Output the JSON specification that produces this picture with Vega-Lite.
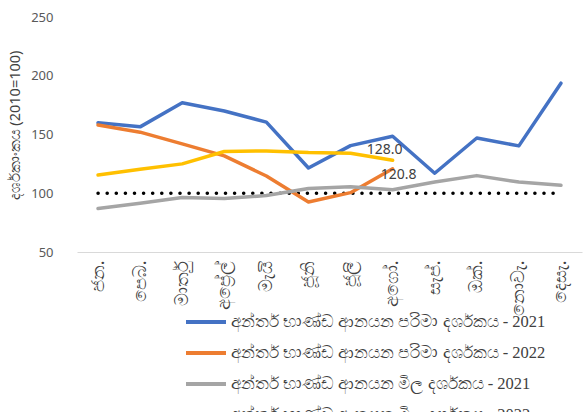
{
  "$schema": "https://vega.github.io/schema/vega-lite/v6.json",
  "width": 505,
  "height": 235,
  "autosize": "none",
  "padding": {"left": 77, "top": 17, "right": 4, "bottom": 160},
  "background": "white",
  "config": {"view": {"stroke": null}},
  "datasets": {
    "series": [
      {"month": "ජන.", "series": "අන්තර් භාණ්ඩ ආනයන පරිමා දර්ශකය - 2021", "value": 160},
      {"month": "පෙබ.", "series": "අන්තර් භාණ්ඩ ආනයන පරිමා දර්ශකය - 2021", "value": 156.5},
      {"month": "මාර්තු", "series": "අන්තර් භාණ්ඩ ආනයන පරිමා දර්ශකය - 2021", "value": 177},
      {"month": "අප්‍රේල්", "series": "අන්තර් භාණ්ඩ ආනයන පරිමා දර්ශකය - 2021", "value": 170},
      {"month": "මැයි", "series": "අන්තර් භාණ්ඩ ආනයන පරිමා දර්ශකය - 2021", "value": 160.5},
      {"month": "ජූනි", "series": "අන්තර් භාණ්ඩ ආනයන පරිමා දර්ශකය - 2021", "value": 121.5},
      {"month": "ජූලි", "series": "අන්තර් භාණ්ඩ ආනයන පරිමා දර්ශකය - 2021", "value": 140.5},
      {"month": "අගෝ.", "series": "අන්තර් භාණ්ඩ ආනයන පරිමා දර්ශකය - 2021", "value": 148.5},
      {"month": "සැප්.", "series": "අන්තර් භාණ්ඩ ආනයන පරිමා දර්ශකය - 2021", "value": 117},
      {"month": "ඔක්.", "series": "අන්තර් භාණ්ඩ ආනයන පරිමා දර්ශකය - 2021", "value": 147},
      {"month": "නොවැ.", "series": "අන්තර් භාණ්ඩ ආනයන පරිමා දර්ශකය - 2021", "value": 140.3},
      {"month": "දෙසැ.", "series": "අන්තර් භාණ්ඩ ආනයන පරිමා දර්ශකය - 2021", "value": 193.7},
      {"month": "ජන.", "series": "අන්තර් භාණ්ඩ ආනයන පරිමා දර්ශකය - 2022", "value": 158},
      {"month": "පෙබ.", "series": "අන්තර් භාණ්ඩ ආනයන පරිමා දර්ශකය - 2022", "value": 152},
      {"month": "මාර්තු", "series": "අන්තර් භාණ්ඩ ආනයන පරිමා දර්ශකය - 2022", "value": 142},
      {"month": "අප්‍රේල්", "series": "අන්තර් භාණ්ඩ ආනයන පරිමා දර්ශකය - 2022", "value": 131.8},
      {"month": "මැයි", "series": "අන්තර් භාණ්ඩ ආනයන පරිමා දර්ශකය - 2022", "value": 114.7},
      {"month": "ජූනි", "series": "අන්තර් භාණ්ඩ ආනයන පරිමා දර්ශකය - 2022", "value": 92.5},
      {"month": "ජූලි", "series": "අන්තර් භාණ්ඩ ආනයන පරිමා දර්ශකය - 2022", "value": 100.5},
      {"month": "අගෝ.", "series": "අන්තර් භාණ්ඩ ආනයන පරිමා දර්ශකය - 2022", "value": 120.8},
      {"month": "ජන.", "series": "අන්තර් භාණ්ඩ ආනයන මිල දර්ශකය - 2021", "value": 87},
      {"month": "පෙබ.", "series": "අන්තර් භාණ්ඩ ආනයන මිල දර්ශකය - 2021", "value": 91.5},
      {"month": "මාර්තු", "series": "අන්තර් භාණ්ඩ ආනයන මිල දර්ශකය - 2021", "value": 96.3},
      {"month": "අප්‍රේල්", "series": "අන්තර් භාණ්ඩ ආනයන මිල දර්ශකය - 2021", "value": 95.5},
      {"month": "මැයි", "series": "අන්තර් භාණ්ඩ ආනයන මිල දර්ශකය - 2021", "value": 98},
      {"month": "ජූනි", "series": "අන්තර් භාණ්ඩ ආනයන මිල දර්ශකය - 2021", "value": 104},
      {"month": "ජූලි", "series": "අන්තර් භාණ්ඩ ආනයන මිල දර්ශකය - 2021", "value": 105.5},
      {"month": "අගෝ.", "series": "අන්තර් භාණ්ඩ ආනයන මිල දර්ශකය - 2021", "value": 103},
      {"month": "සැප්.", "series": "අන්තර් භාණ්ඩ ආනයන මිල දර්ශකය - 2021", "value": 109.5},
      {"month": "ඔක්.", "series": "අන්තර් භාණ්ඩ ආනයන මිල දර්ශකය - 2021", "value": 115},
      {"month": "නොවැ.", "series": "අන්තර් භාණ්ඩ ආනයන මිල දර්ශකය - 2021", "value": 109.5},
      {"month": "දෙසැ.", "series": "අන්තර් භාණ්ඩ ආනයන මිල දර්ශකය - 2021", "value": 106.8},
      {"month": "ජන.", "series": "අන්තර් භාණ්ඩ ආනයන මිල දර්ශකය - 2022", "value": 115.6},
      {"month": "පෙබ.", "series": "අන්තර් භාණ්ඩ ආනයන මිල දර්ශකය - 2022", "value": 120.5},
      {"month": "මාර්තු", "series": "අන්තර් භාණ්ඩ ආනයන මිල දර්ශකය - 2022", "value": 125},
      {"month": "අප්‍රේල්", "series": "අන්තර් භාණ්ඩ ආනයන මිල දර්ශකය - 2022", "value": 135.5},
      {"month": "මැයි", "series": "අන්තර් භාණ්ඩ ආනයන මිල දර්ශකය - 2022", "value": 136},
      {"month": "ජූනි", "series": "අන්තර් භාණ්ඩ ආනයන මිල දර්ශකය - 2022", "value": 134.6},
      {"month": "ජූලි", "series": "අන්තර් භාණ්ඩ ආනයන මිල දර්ශකය - 2022", "value": 134},
      {"month": "අගෝ.", "series": "අන්තර් භාණ්ඩ ආනයන මිල දර්ශකය - 2022", "value": 128}
    ],
    "base": [
      {"month": "ජන.", "value": 100}, {"month": "පෙබ.", "value": 100}, {"month": "මාර්තු", "value": 100},
      {"month": "අප්‍රේල්", "value": 100}, {"month": "මැයි", "value": 100}, {"month": "ජූනි", "value": 100},
      {"month": "ජූලි", "value": 100}, {"month": "අගෝ.", "value": 100}, {"month": "සැප්.", "value": 100},
      {"month": "ඔක්.", "value": 100}, {"month": "නොවැ.", "value": 100}, {"month": "දෙසැ.", "value": 100}
    ],
    "labels": [
      {"month": "අගෝ.", "value": 128, "label": "128.0", "kind": "price"},
      {"month": "අගෝ.", "value": 120.8, "label": "120.8", "kind": "volume"}
    ]
  },
  "encoding": {
    "x": {
      "field": "month", "type": "ordinal",
      "sort": ["ජන.", "පෙබ.", "මාර්තු", "අප්‍රේල්", "මැයි", "ජූනි", "ජූලි", "අගෝ.", "සැප්.", "ඔක්.", "නොවැ.", "දෙසැ."],
      "scale": {"type": "point", "padding": 0.5},
      "axis": {"title": null, "labelAngle": -90, "labelFontSize": 18, "labelColor": "#404040", "labelPadding": 8, "ticks": false, "domain": true, "domainColor": "#D9D9D9", "domainWidth": 1, "grid": false, "labelFont": "Noto Sans"}
    },
    "y": {
      "field": "value", "type": "quantitative",
      "scale": {"domain": [50, 250], "nice": false, "zero": false},
      "axis": {"values": [50, 100, 150, 200, 250], "title": "දර්ශකාංකය (2010=100)", "titleFontSize": 14.5, "titleFontWeight": "normal", "titleColor": "#404040", "titleFont": "Noto Sans", "titleX": -55, "titleY": 108, "labelFontSize": 13, "labelColor": "#595959", "labelFont": "Noto Sans", "labelPadding": 24, "ticks": false, "domain": false, "grid": false}
    }
  },
  "layer": [
    {
      "data": {"name": "base"},
      "mark": {"type": "line", "color": "black", "strokeWidth": 3.5, "strokeDash": [0.1, 9], "strokeCap": "round"}
    },
    {
      "data": {"name": "series"},
      "mark": {"type": "line", "strokeWidth": 3.5, "strokeCap": "round", "strokeJoin": "round"},
      "encoding": {
        "color": {
          "field": "series", "type": "nominal",
          "sort": ["අන්තර් භාණ්ඩ ආනයන පරිමා දර්ශකය - 2021", "අන්තර් භාණ්ඩ ආනයන පරිමා දර්ශකය - 2022", "අන්තර් භාණ්ඩ ආනයන මිල දර්ශකය - 2021", "අන්තර් භාණ්ඩ ආනයන මිල දර්ශකය - 2022"],
          "scale": {"range": ["#4472C4", "#ED7D31", "#A5A5A5", "#FFC000"]},
          "legend": {"title": null, "orient": "none", "legendX": 117, "legendY": 293, "direction": "vertical", "symbolType": "M-2,0H2", "symbolSize": 400, "symbolStrokeWidth": 4, "labelFontSize": 16.5, "labelFont": "Liberation Serif", "labelColor": "#404040", "labelLimit": 400, "rowPadding": 10, "labelOffset": 13}
        }
      }
    },
    {
      "data": {"name": "labels"},
      "transform": [{"filter": "datum.kind == 'price'"}],
      "mark": {"type": "text", "fontSize": 14, "color": "#404040", "dx": -8, "dy": -10, "font": "Noto Sans"},
      "encoding": {"text": {"field": "label"}}
    },
    {
      "data": {"name": "labels"},
      "transform": [{"filter": "datum.kind == 'volume'"}],
      "mark": {"type": "text", "fontSize": 14, "color": "#404040", "dx": 6, "dy": 6, "font": "Noto Sans"},
      "encoding": {"text": {"field": "label"}}
    }
  ]
}
